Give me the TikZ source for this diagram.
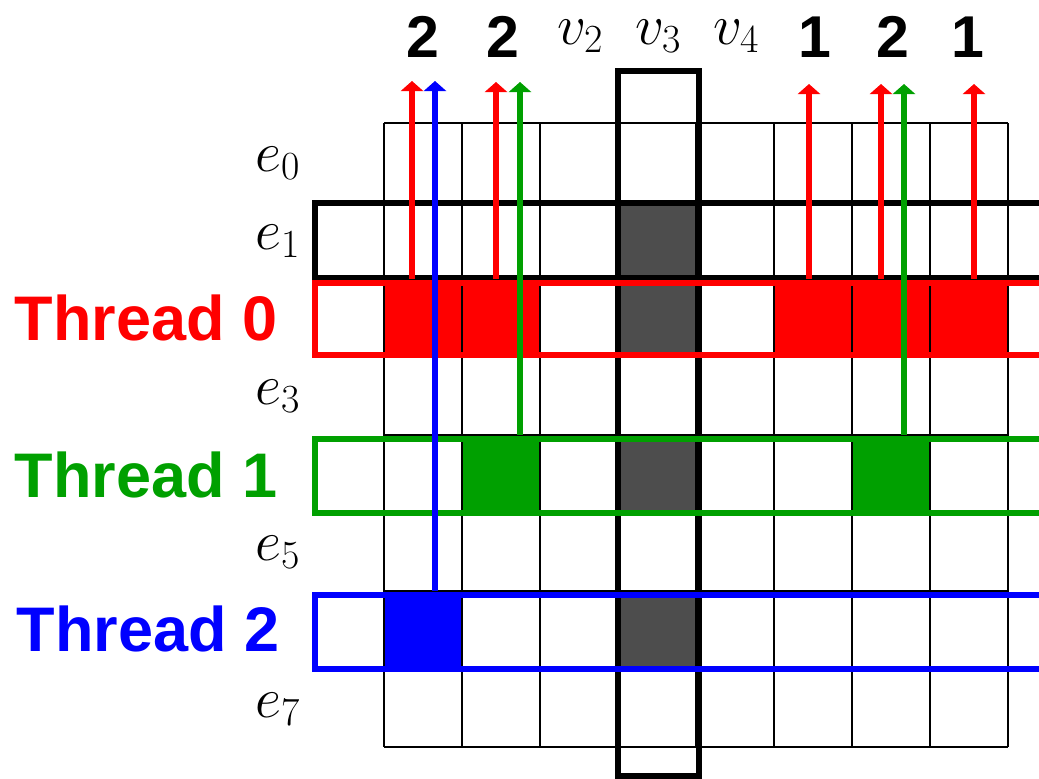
\RequirePackage{fix-cm}
\documentclass[tikz,border=0pt]{standalone}
\usepackage{fontspec}
\newfontfamily\lsans{Liberation Sans}
\usetikzlibrary{arrows.meta}
\definecolor{tred}{RGB}{255,0,0}
\definecolor{tgreen}{RGB}{0,160,0}
\definecolor{tblue}{RGB}{0,0,255}
\definecolor{vgray}{RGB}{77,77,77}
\tikzset{
  cell/.style={minimum width=78pt,minimum height=78pt,inner sep=0pt,outer sep=0pt,anchor=north west},
  grayc/.style={cell,fill=vgray},
  redc/.style={cell,fill=tred},
  greenc/.style={cell,fill=tgreen,draw=black,line width=1.6pt},
  bluec/.style={cell,fill=tblue},
  gridline/.style={draw=black,line width=1.6pt},
  tbox/.style={line width=6pt},
  harrow/.style={line width=6pt,-{Triangle[width=22pt,length=10pt]}},
  numlbl/.style={font=\lsans\bfseries\fontsize{59}{60}\selectfont,anchor=base,inner sep=0pt},
  mathlbl/.style={font=\fontsize{57}{60}\selectfont,anchor=base,inner sep=0pt},
  elbl/.style={font=\fontsize{57}{60}\selectfont,anchor=base east,inner sep=0pt},
  threadlbl/.style={font=\lsans\bfseries\fontsize{63}{64}\selectfont,anchor=base,inner sep=0pt}
}
\begin{document}
\begin{tikzpicture}[x=1pt,y=-1pt]
\useasboundingbox (0,0) rectangle (1039,779);
\clip (0,0) rectangle (1039,779);
% gray cells of column v3
\node[grayc] (gr1) at (618,201) {};
\node[grayc] (gr2) at (618,279) {};
\node[grayc] (gr4) at (618,435) {};
\node[grayc] (gr6) at (618,591) {};
% thread 0 cells
\node[redc] (r0) at (384,279) {};
\node[redc] (r1) at (462,279) {};
\node[redc] (r5) at (774,279) {};
\node[redc] (r6) at (852,279) {};
\node[redc] (r7) at (930,279) {};
% thread 2 cell
\node[bluec] (b0) at (384,591) {};
% grid
\foreach \i in {0,...,8} {
  \draw[gridline] ({384+78*\i},123) -- ({384+78*\i},747);
  \draw[gridline] (384,{123+78*\i}) -- (1008,{123+78*\i});
}
% thread 1 cells
\node[greenc] (g1) at (462,435) {};
\node[greenc] (g6) at (852,435) {};
% v3 column box and e1 row box
\draw[line width=5.5pt] (618,71) rectangle (699,776);
\draw[tbox,draw=black] (315,203) rectangle (1060,278);
% thread boxes
\draw[tbox,draw=tred] (315,283) rectangle (1060,355);
\draw[tbox,draw=tgreen] (315,439) rectangle (1060,513);
\draw[tbox,draw=tblue] (315,595) rectangle (1060,669);
% arrows
\coordinate (a1) at (412,81);
\coordinate (a2) at (435,81);
\coordinate (a3) at (496,82);
\coordinate (a4) at (520,82);
\coordinate (a5) at (809,84);
\coordinate (a6) at (881,84);
\coordinate (a7) at (904,84);
\coordinate (a8) at (974,84);
\draw[harrow,draw=tred,fill=tred] (r0.north -| a1) -- (a1);
\draw[harrow,draw=tblue,fill=tblue] (b0.north -| a2) -- (a2);
\draw[harrow,draw=tred,fill=tred] (r1.north -| a3) -- (a3);
\draw[harrow,draw=tgreen,fill=tgreen] (g1.north -| a4) -- (a4);
\draw[harrow,draw=tred,fill=tred] (r5.north -| a5) -- (a5);
\draw[harrow,draw=tred,fill=tred] (r6.north -| a6) -- (a6);
\draw[harrow,draw=tgreen,fill=tgreen] (g6.north -| a7) -- (a7);
\draw[harrow,draw=tred,fill=tred] (r7.north -| a8) -- (a8);
% top labels
\node[numlbl] (n0) at (423,57) {2};
\node[numlbl] (n1) at (503,57) {2};
\node[mathlbl] (v2) at (580,44) {$v_2$};
\node[mathlbl] (v3) at (658,44) {$v_3$};
\node[mathlbl] (v4) at (736,44) {$v_4$};
\node[numlbl] (n5) at (815,57) {1};
\node[numlbl] (n6) at (893,57) {2};
\node[numlbl] (n7) at (968,57) {1};
% row labels
\node[elbl] (e0) at (300,171) {$e_0$};
\node[elbl] (e1) at (300,249) {$e_1$};
\node[elbl] (e3) at (300,404) {$e_3$};
\node[elbl] (e5) at (300,560) {$e_5$};
\node[elbl] (e7) at (300,717) {$e_7$};
\node[threadlbl,text=tred] (t0) at (146,340) {Thread 0};
\node[threadlbl,text=tgreen] (t1) at (146,497) {Thread 1};
\node[threadlbl,text=tblue] (t2) at (148,651) {Thread 2};
\end{tikzpicture}
\end{document}
